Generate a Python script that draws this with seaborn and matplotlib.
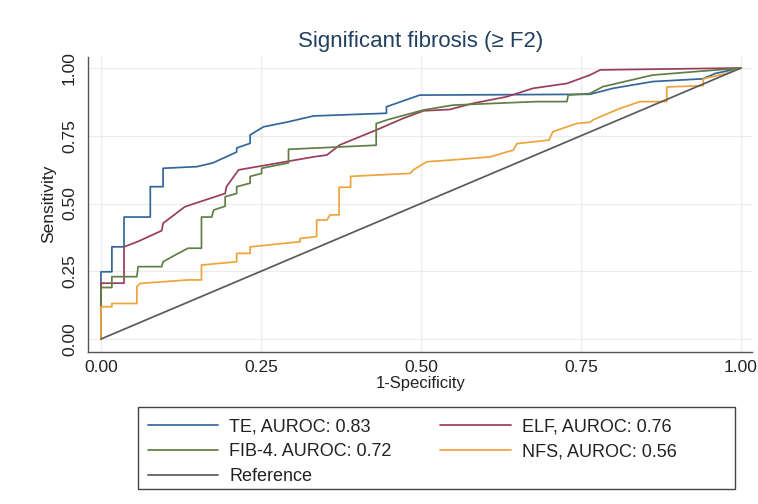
import numpy as np
import pandas as pd
import matplotlib
matplotlib.use("Agg")
import matplotlib.pyplot as plt
import seaborn as sns
from matplotlib.patches import Rectangle

# ---------------- data ----------------
te_fpr = [0, 0, .017, .017, .036, .036, .077, .077, .097, .097, .15, .175, .212, .212,
          .233, .233, .254, .29, .332, .446, .446, .498, .764, .80, .862, .94, .96, 1.0]
te_tpr = [0, .248, .248, .34, .34, .45, .45, .562, .562, .63, .636, .65, .69, .705,
          .722, .753, .783, .80, .823, .833, .857, .90, .903, .925, .95, .96, .98, 1.0]

elf_fpr = [0, 0, .036, .036, .058, .095, .097, .131, .163, .194, .196, .215, .332, .353,
           .373, .43, .472, .504, .545, .582, .634, .675, .728, .764, .78, 1.0]
elf_tpr = [0, .206, .206, .34, .36, .40, .427, .488, .513, .537, .562, .624, .672, .679,
           .716, .771, .814, .842, .847, .87, .894, .925, .943, .974, .993, 1.0]

fib4_fpr = [0, 0, .017, .017, .056, .058, .095, .097, .116, .136, .157, .157, .173, .176,
            .194, .194, .212, .212, .233, .233, .251, .251, .293, .293, .43, .43, .449,
            .504, .55, .68, .728, .73, .764, .784, .862, 1.0]
fib4_tpr = [0, .19, .19, .23, .23, .267, .267, .285, .31, .335, .335, .45, .45, .476,
            .49, .525, .537, .562, .575, .60, .611, .63, .65, .70, .715, .795, .81,
            .845, .863, .876, .876, .90, .906, .931, .974, 1.0]

nfs_fpr = [0, 0, .017, .017, .056, .056, .061, .136, .157, .157, .212, .212, .233, .233,
           .311, .311, .337, .337, .353, .358, .372, .372, .39, .39, .43, .483, .488,
           .509, .545, .608, .644, .65, .70, .706, .743, .764, .77, .79, .81, .842,
           .884, .884, .941, .941, .977, 1.0]
nfs_tpr = [0, .119, .119, .131, .131, .193, .205, .218, .218, .273, .285, .316, .316, .34,
           .359, .371, .378, .439, .439, .458, .458, .56, .56, .60, .605, .611, .624,
           .654, .66, .672, .697, .721, .734, .765, .795, .80, .81, .83, .85, .876,
           .876, .93, .935, .96, .98, 1.0]

ref_fpr = [0, 1]
ref_tpr = [0, 1]

names = ["TE, AUROC: 0.83", "ELF, AUROC: 0.76", "FIB-4. AUROC: 0.72",
         "NFS, AUROC: 0.56", "Reference"]
colors = ["#33679a", "#9a3d57", "#5f7f45", "#eea43c", "#5a5a5a"]

series = [(te_fpr, te_tpr), (elf_fpr, elf_tpr), (fib4_fpr, fib4_tpr),
          (nfs_fpr, nfs_tpr), (ref_fpr, ref_tpr)]
frames = []
for nm, (f, t) in zip(names, series):
    frames.append(pd.DataFrame({"fpr": f, "tpr": t, "curve": nm,
                                "idx": np.arange(len(f))}))
df = pd.concat(frames, ignore_index=True)

# ---------------- figure ----------------
sns.set_theme(style="white")
plt.rcParams["font.family"] = ["Liberation Sans", "DejaVu Sans"]

W, H = 758, 504
fig = plt.figure(figsize=(W / 100, H / 100), dpi=100)
fig.patch.set_facecolor("white")
ax = fig.add_axes([88 / W, 1 - 352 / H, (752 - 88) / W, (352 - 57) / H])

sns.lineplot(data=df, x="fpr", y="tpr", hue="curve", hue_order=names,
             palette=dict(zip(names, colors)), sort=False, estimator=None,
             linewidth=1.25, ax=ax)

ax.set_xlim(-13 / 640, 1 + 11 / 640)
ax.set_ylim(-13 / 271, 1 + 11 / 271)
ticks = [0, .25, .5, .75, 1]
tlabels = ["0.00", "0.25", "0.50", "0.75", "1.00"]
ax.set_xticks(ticks)
ax.set_xticklabels(tlabels)
ax.set_yticks(ticks)
ax.set_yticklabels(tlabels, rotation=90, va="center")
ax.grid(True, color="#ececec", linewidth=0.9)
ax.set_axisbelow(True)
for s in ["top", "right"]:
    ax.spines[s].set_visible(False)
for s in ["left", "bottom"]:
    ax.spines[s].set_color("#555555")
    ax.spines[s].set_linewidth(1.0)
ax.tick_params(axis="both", direction="out", length=5, width=1, color="#555555",
               labelsize=12.5, labelcolor="#222222")
ax.tick_params(axis="x", pad=1)
ax.tick_params(axis="y", pad=3)

ax.set_xlabel("1-Specificity", fontsize=12, color="#222222")
ax.xaxis.set_label_coords((421 - 88) / 664, -0.083)
ax.set_ylabel("Sensitivity", fontsize=12.5, color="#222222")
ax.yaxis.set_label_coords((56 - 88) / 664, 0.502)

fig.text(421 / W, 1 - 41 / H, "Significant fibrosis (\u2265 F2)", ha="center",
         va="center", fontsize=16, color="#22405f")

# legend
handles, labels = ax.get_legend_handles_labels()
ax.get_legend().remove()
hmap = dict(zip(labels, handles))
order = [names[0], names[2], names[4], names[1], names[3]]
leg = fig.legend([hmap[n] for n in order], order, ncol=2, loc="upper left",
                 bbox_to_anchor=(148 / W, 1 - 418 / H), frameon=False,
                 fontsize=13, handlelength=3.9, handletextpad=0.6,
                 columnspacing=2.7, labelspacing=0.45, borderpad=0,
                 borderaxespad=0)
for t in leg.get_texts():
    t.set_color("#222222")
fig.add_artist(Rectangle((138 / W, 1 - 489 / H), (735 - 138) / W, (489 - 407) / H,
                         transform=fig.transFigure, fill=False, ec="#444444", lw=1))

fig.savefig("out.png", dpi=100)
